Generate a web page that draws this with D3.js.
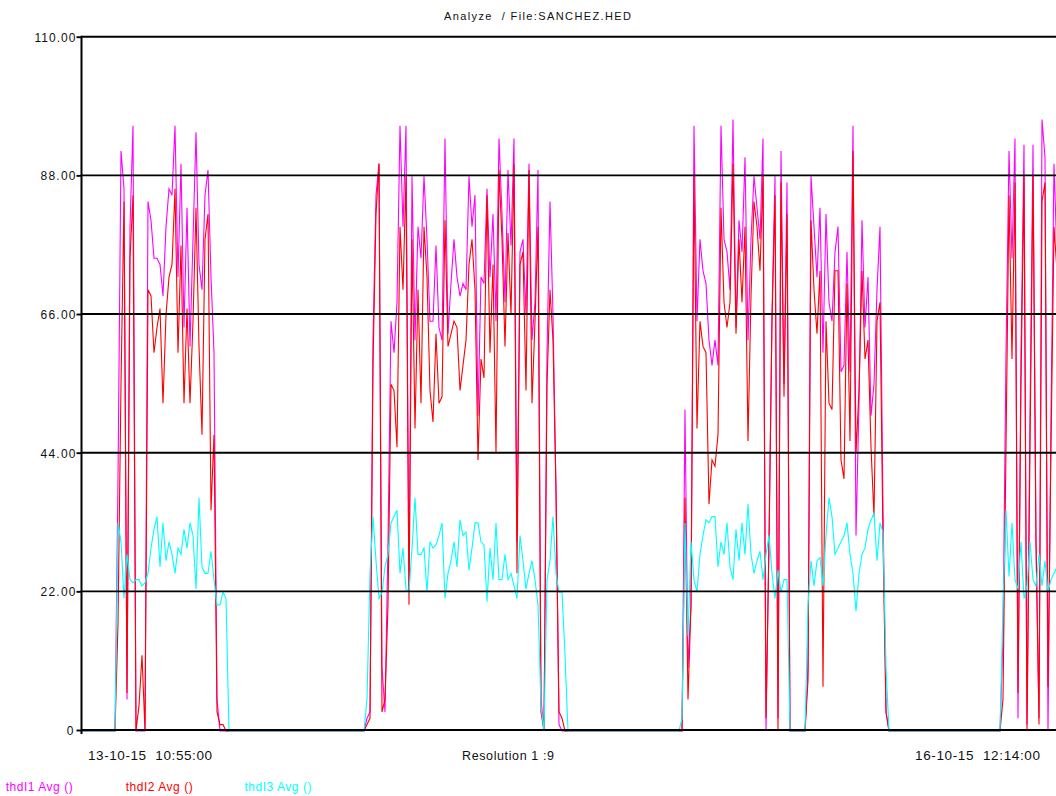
<!DOCTYPE html>
<html>
<head>
<meta charset="utf-8">
<script src="https://cdn.jsdelivr.net/npm/d3@7"></script>
<style>
  html, body { margin: 0; padding: 0; background: #fff; overflow: hidden; }
  svg { display: block; font-family: "Liberation Sans", Arial, sans-serif; }
</style>
</head>
<body>
<svg id="chart" width="1056" height="796"></svg>
<script>
// ---------------- data ----------------
const titleText = "Analyze  / File:SANCHEZ.HED";
const yTicks = [0, 22, 44, 66, 88, 110];
const yTickLabels = ["0", "22.00", "44.00", "66.00", "88.00", "110.00"];
const timeLabels = ["13-10-15  10:55:00", "16-10-15  12:14:00"];
const resolutionLabel = "Resolution 1 :9";
const seriesNames = ["thdI1 Avg ()", "thdI2 Avg ()", "thdI3 Avg ()"];
const seriesColors = ["#ff00ff", "#ff0000", "#00ffff"];

// one value per sample (326 samples)
const thdI1 = [
  0,0,0,0,0,0,0,0,0,0, 0,0,
  40,92,86,5,80,96,0,0,0,0,84,81,75,75,74,69,80,86,85,96,72,90,64,83,61,78,95,74,70,85,89,72,60,5,0,0,0,
  0,0,0,0,0,0,0,0,0,0, 0,0,0,0,0,0,0,0,0,0, 0,0,0,0,0,0,0,0,0,0, 0,0,0,0,0,0,0,0,0,0, 0,0,0,0,0,0,
  2,3,62,85,90,10,3,30,65,60,68,96,80,96,22,88,62,80,75,88,78,65,65,77,64,62,94,63,71,78,72,69,71,70,88,80,85,50,72,71,86,72,82,65,94,82,68,89,77,94,30,76,78,66,90,62,68,89,5,0,60,84,66,38,1,0,0,
  0,0,0,0,0,0,0,0,0,0, 0,0,0,0,0,0,0,0,0,0, 0,0,0,0,0,0,0,0,0,0, 0,0,0,0,0,0,0,0,
  0,51,10,20,96,65,78,73,71,62,58,62,58,96,78,76,70,97,64,81,76,91,62,78,88,83,78,94,0,30,66,88,2,92,55,87,
  0,0,0,0,0,0,
  10,88,80,72,83,60,82,68,65,76,80,57,58,76,57,96,31,52,81,64,72,50,55,70,80,35,3,
  0,0,0,0,0,0,0,0,0,0, 0,0,0,0,0,0,0,0,0,0, 0,0,0,0,0,0,0,0,0,0, 0,0,0,0,0,0,0,0,
  15,60,92,75,94,2,60,93,1,50,93,30,2,97,91,0,50,90,75
];

const thdI2 = [
  0,0,0,0,0,0,0,0,0,0, 0,0,
  17,55,84,6,75,85,0,4,12,0,70,69,60,64,67,52,66,72,74,86,60,77,52,67,52,65,83,61,47,78,82,35,47,3,1,1,0,
  0,0,0,0,0,0,0,0,0,0, 0,0,0,0,0,0,0,0,0,0, 0,0,0,0,0,0,0,0,0,0, 0,0,0,0,0,0,0,0,0,0, 0,0,0,0,0,0,
  1,2,58,82,90,3,5,20,55,54,45,80,70,88,20,78,48,70,52,80,72,54,49,63,52,53,81,61,63,65,64,54,58,62,74,78,70,43,59,56,85,60,74,44,89,78,61,79,66,90,25,74,76,54,89,52,65,80,3,0,55,70,62,38,3,2,0,
  0,0,0,0,0,0,0,0,0,0, 0,0,0,0,0,0,0,0,0,0, 0,0,0,0,0,0,0,0,0,0, 0,0,0,0,0,0,0,0,
  0,37,5,20,88,48,65,61,60,36,43,42,47,83,68,64,68,90,63,78,68,80,46,69,84,80,73,88,2,30,65,85,0,87,53,82,
  0,0,0,0,0,0,
  8,81,70,63,73,7,65,52,51,73,73,43,40,71,46,92,44,54,73,59,62,45,34,65,68,30,3,
  0,0,0,0,0,0,0,0,0,0, 0,0,0,0,0,0,0,0,0,0, 0,0,0,0,0,0,0,0,0,0, 0,0,0,0,0,0,0,0,
  5,45,85,59,87,6,55,88,0,45,88,30,1,84,87,7,45,80,73
];

const thdI3 = [
  0,0,0,0,0,0,0,0,0,0, 0,0,
  33,30,21,28,24,23.5,24,24,23,23.5,25,29,32,34,26,33,27,30,28,25,29,28,32,29,33,31,22.5,37,26,25,25,28.5,24,20,20,22,21,
  0,0,0,0,0,0,0,0,0,0, 0,0,0,0,0,0,0,0,0,0, 0,0,0,0,0,0,0,0,0,0, 0,0,0,0,0,0,0,0,0,0, 0,0,0,0,0,0,
  5,25,34,27,21,22,26,28,33,34,35,25,29,22.5,22,29,37,28,28,29,22,30,29,29.5,31,33,21,25,27,30,26,33.5,31,31.5,25.5,29,33,33,30,29.5,20.5,29,24,33,24,24,28,24,25,23,21,31,27,22.5,25,27,24,20,4,0,24,27,34,25,22,22,12,
  0,0,0,0,0,0,0,0,0,0, 0,0,0,0,0,0,0,0,0,0, 0,0,0,0,0,0,0,0,0,0, 0,0,0,0,0,0,0,0,
  2,33,15,30,24,22,28,31,33.5,33,34,34,26,30,28,33,26,24,32,27,33,28,36,28,25,27,28.5,24,28,31,25,21,25.5,22,24,24,
  0,0,0,0,0,0,
  20,27,23,27,27.5,23,31,37,34,28,29,30,31,33,28,25,19,25,28,29,32,33.5,34.5,27,33,31.5,10,
  0,0,0,0,0,0,0,0,0,0, 0,0,0,0,0,0,0,0,0,0, 0,0,0,0,0,0,0,0,0,0, 0,0,0,0,0,0,0,0,
  20,35,24.5,33,24,22.5,30,21,23,30,24,23,28,23,27,22,24,25,26
];

const series = [thdI1, thdI2, thdI3];

// ---------------- chart ----------------
const svg = d3.select("#chart");
const W = 1056, H = 796;
const plotLeft = 81.5, plotTop = 36.7, plotBottom = 730;

const x = d3.scaleLinear().domain([0, thdI1.length - 1]).range([82, 1057]);
const y = d3.scaleLinear().domain([0, 110]).range([plotBottom, plotTop]);
const yData = y.copy().range([plotBottom + 0.9, plotTop + 0.9]);

// title
svg.append("text")
  .attr("x", 444).attr("y", 19.5)
  .attr("font-size", 11)
  .attr("textLength", 187).attr("lengthAdjust", "spacing")
  .style("white-space", "pre")
  .attr("fill", "#111")
  .text(titleText);

// clip
svg.append("clipPath").attr("id", "clip")
  .append("rect").attr("x", 82).attr("y", 0).attr("width", W - 82).attr("height", plotBottom + 4);

// series lines (magenta, red, cyan)
const line = d3.line().x((d, i) => x(i)).y(d => yData(d));
const gLines = svg.append("g").attr("clip-path", "url(#clip)");
series.forEach((s, k) => {
  gLines.append("path")
    .datum(s)
    .attr("fill", "none")
    .attr("stroke", seriesColors[k])
    .attr("stroke-width", 1.1)
    .attr("stroke-linejoin", "miter")
    .attr("d", line);
});

// gridlines on top
svg.append("g")
  .selectAll("line")
  .data(yTicks)
  .join("line")
  .attr("x1", plotLeft).attr("x2", W)
  .attr("y1", d => y(d)).attr("y2", d => y(d))
  .attr("stroke", "#000")
  .attr("stroke-width", 1.9);

// y axis
const yAxis = d3.axisLeft(y)
  .tickValues(yTicks)
  .tickSize(5)
  .tickPadding(1)
  .tickFormat((d, i) => yTickLabels[i]);

const gy = svg.append("g")
  .attr("transform", `translate(${plotLeft},0)`)
  .call(yAxis);
gy.select(".domain").remove();
gy.selectAll(".tick line").attr("stroke", "#000").attr("stroke-width", 1.9);
gy.selectAll(".tick text")
  .attr("font-size", 12)
  .attr("font-family", "Liberation Sans, Arial, sans-serif")
  .attr("fill", "#111")
  .attr("dy", "0.36em")
  .each(function(d, i) {
    const t = d3.select(this);
    const lbl = yTickLabels[i];
    if (lbl.length === 6) t.attr("textLength", 41).attr("lengthAdjust", "spacing");
    else if (lbl.length === 5) t.attr("textLength", 35).attr("lengthAdjust", "spacing");
    else t.attr("x", -8);
  });

// vertical axis line
svg.append("line")
  .attr("x1", plotLeft).attr("x2", plotLeft)
  .attr("y1", plotTop - 0.9).attr("y2", plotBottom + 4)
  .attr("stroke", "#000").attr("stroke-width", 2);

// bottom labels
svg.append("text")
  .attr("x", x(0) + 6).attr("y", 760)
  .attr("font-size", 13.5)
  .attr("fill", "#111")
  .style("white-space", "pre")
  .attr("textLength", 124).attr("lengthAdjust", "spacing")
  .text(timeLabels[0]);

svg.append("text")
  .attr("x", 462).attr("y", 760)
  .attr("font-size", 12.5)
  .attr("fill", "#111")
  .style("white-space", "pre")
  .attr("textLength", 92).attr("lengthAdjust", "spacing")
  .text(resolutionLabel);

svg.append("text")
  .attr("x", 915).attr("y", 760)
  .attr("font-size", 13.5)
  .attr("fill", "#111")
  .style("white-space", "pre")
  .attr("textLength", 125).attr("lengthAdjust", "spacing")
  .text(timeLabels[1]);

// legend
const legendX = [5.7, 125.7, 244.4];
svg.append("g")
  .selectAll("text")
  .data(seriesNames)
  .join("text")
  .attr("x", (d, i) => legendX[i])
  .attr("y", 790.5)
  .attr("font-size", 12)
  .attr("fill", (d, i) => seriesColors[i])
  .style("white-space", "pre")
  .attr("textLength", 67).attr("lengthAdjust", "spacing")
  .text(d => d);
</script>
</body>
</html>
